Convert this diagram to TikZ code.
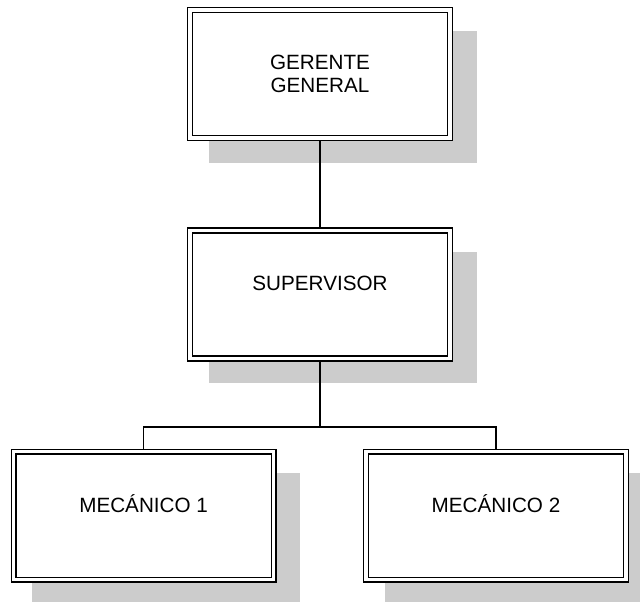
\documentclass[tikz,border=0pt]{standalone}
\usepackage{fontspec}
\setmainfont{Liberation Sans}
\usepackage{tikz}
\usetikzlibrary{shadows,positioning}

\tikzset{
	puesto/.style={draw, fill=white, double, line width=1pt, double distance=2.4pt,
		minimum width=6.5cm, minimum height=3.2cm, inner sep=0pt, outer sep=2.2pt,
		align=center, font=\fontsize{14.7}{16.6}\selectfont,
		drop shadow={shadow xshift=0.55cm, shadow yshift=-0.56cm, shadow scale=1.03,
			fill=black!20, opacity=1, draw=none}},
	unalinea/.style={text depth=0.58cm},
	linea/.style={line width=1pt}
}

\begin{document}
\begin{tikzpicture}
			\useasboundingbox (0,0) rectangle (16,-15.025);
			
			% Cargos
			\node[puesto] (gerente) at (8,-1.85) {GERENTE\\GENERAL};
			\node[puesto, unalinea] (supervisor) at (8,-7.36) {SUPERVISOR};
			\node[puesto, unalinea] (mecanico1) at (3.59,-12.89) {MECÁNICO 1};
			\node[puesto, unalinea] (mecanico2) at (12.4,-12.89) {MECÁNICO 2};
			
			% Conexiones
			\coordinate (rama) at (8,-10.675);
			\draw[linea] (gerente.south) -- (supervisor.north);
			\draw[linea] (supervisor.south) -- (rama);
			\draw[linea] (mecanico1.north) |- (rama) -| (mecanico2.north);
		\end{tikzpicture}
\end{document}
